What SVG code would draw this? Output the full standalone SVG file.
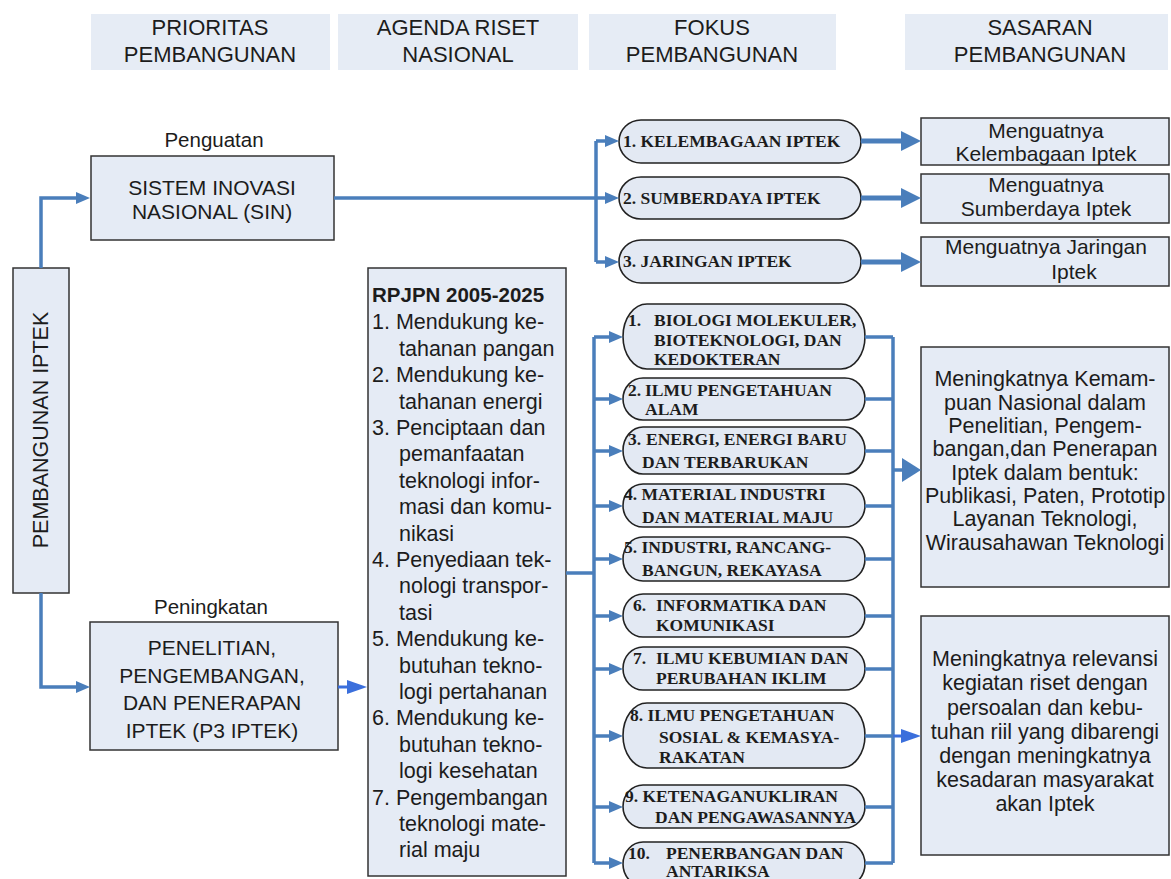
<svg xmlns="http://www.w3.org/2000/svg" width="1171" height="879" viewBox="0 0 1171 879">
<style>
.hdr{fill:#e6ecf5}
.box{fill:#e5ebf5;stroke:#333;stroke-width:1.5}
.pill{fill:#e3e9f3;stroke:#222;stroke-width:1.6}
.t{font-family:"Liberation Sans",Arial,sans-serif;fill:#1c1c1c}
.h{font-size:22px;text-anchor:middle}
.m{font-size:21px;text-anchor:middle}
.b{font-size:21.5px;text-anchor:middle}
.l{font-size:20.5px;text-anchor:middle}
.r{font-size:21.5px}
.ps{font-family:"Liberation Serif","Times New Roman",serif;font-weight:bold;font-size:17.5px;fill:#1c1c1c}
.c{fill:none;stroke:#4a7ebb;stroke-width:3.5}
.ct{fill:none;stroke:#4a7ebb;stroke-width:5}
.cb{fill:none;stroke:#3b6fdc;stroke-width:3}
</style>
<defs>
<marker id="mS" markerUnits="userSpaceOnUse" markerWidth="14" markerHeight="12" refX="4" refY="6" orient="auto"><path d="M0,0 L14,6 L0,12 z" fill="#4a7ebb"/></marker>
<marker id="mB" markerUnits="userSpaceOnUse" markerWidth="20" markerHeight="20" refX="4" refY="10" orient="auto"><path d="M0,0 L20,10 L0,20 z" fill="#4a7ebb"/></marker>
<marker id="mT" markerUnits="userSpaceOnUse" markerWidth="19" markerHeight="24" refX="4" refY="12" orient="auto"><path d="M0,0 L19,12 L0,24 z" fill="#4a7ebb"/></marker>
<marker id="mC" markerUnits="userSpaceOnUse" markerWidth="20" markerHeight="14" refX="4" refY="7" orient="auto"><path d="M0,0 L20,7 L0,14 z" fill="#3b6fdc"/></marker>
</defs>
<rect width="1171" height="879" fill="#ffffff"/>

<g id="header-prioritas"><rect class="hdr" x="91" y="14" width="239" height="56"/><text class="t h" x="210" y="35">PRIORITAS</text><text class="t h" x="210" y="62">PEMBANGUNAN</text></g>
<g id="header-agenda"><rect class="hdr" x="338" y="14" width="240" height="56"/><text class="t h" x="458" y="35">AGENDA RISET</text><text class="t h" x="458" y="62">NASIONAL</text></g>
<g id="header-fokus"><rect class="hdr" x="589" y="14" width="247" height="56"/><text class="t h" x="712" y="35">FOKUS</text><text class="t h" x="712" y="62">PEMBANGUNAN</text></g>
<g id="header-sasaran"><rect class="hdr" x="905" y="14" width="263" height="56"/><text class="t h" x="1040" y="35">SASARAN</text><text class="t h" x="1040" y="62">PEMBANGUNAN</text></g>

<g id="pembangunan-iptek"><rect class="box" x="13" y="268" width="56" height="325"/><text class="t b" transform="translate(48,430) rotate(-90)">PEMBANGUNAN IPTEK</text></g>

<g id="sin"><text class="t l" x="214" y="147">Penguatan</text><rect class="box" x="91" y="156" width="243" height="84"/><text class="t m" x="212" y="195">SISTEM INOVASI</text><text class="t m" x="212" y="218.5">NASIONAL (SIN)</text></g>

<g id="p3iptek"><text class="t l" x="211" y="614">Peningkatan</text><rect class="box" x="90" y="622" width="248" height="128"/><text class="t m" x="212" y="655">PENELITIAN,</text><text class="t m" x="212" y="683">PENGEMBANGAN,</text><text class="t m" x="212" y="710">DAN PENERAPAN</text><text class="t m" x="212" y="738">IPTEK (P3 IPTEK)</text></g>

<g id="rpjpn"><rect class="box" x="368" y="268" width="198" height="608"/>
<text class="t" x="372" y="302" font-size="20.5" font-weight="bold">RPJPN 2005-2025</text>
<text class="t r"><tspan x="372" y="329.3">1. Mendukung ke-</tspan><tspan x="399" y="355.7">tahanan pangan</tspan><tspan x="372" y="382.1">2. Mendukung ke-</tspan><tspan x="399" y="408.5">tahanan energi</tspan><tspan x="372" y="434.9">3. Penciptaan dan</tspan><tspan x="399" y="461.3">pemanfaatan</tspan><tspan x="399" y="487.7">teknologi infor-</tspan><tspan x="399" y="514.1">masi dan komu-</tspan><tspan x="399" y="540.5">nikasi</tspan><tspan x="372" y="566.9">4. Penyediaan tek-</tspan><tspan x="399" y="593.3">nologi transpor-</tspan><tspan x="399" y="619.7">tasi</tspan><tspan x="372" y="646.1">5. Mendukung ke-</tspan><tspan x="399" y="672.5">butuhan tekno-</tspan><tspan x="399" y="698.9">logi pertahanan</tspan><tspan x="372" y="725.3">6. Mendukung ke-</tspan><tspan x="399" y="751.7">butuhan tekno-</tspan><tspan x="399" y="778.1">logi kesehatan</tspan><tspan x="372" y="804.5">7. Pengembangan</tspan><tspan x="399" y="830.9">teknologi mate-</tspan><tspan x="399" y="857.3">rial maju</tspan></text></g>

<g id="f-kelembagaan"><rect class="pill" x="619" y="120" width="242" height="43" rx="22" ry="21.5"/><text class="ps" x="623" y="147">1. KELEMBAGAAN IPTEK</text></g>
<g id="f-sumberdaya"><rect class="pill" x="619" y="177" width="242" height="42" rx="22" ry="21"/><text class="ps" x="623" y="204">2. SUMBERDAYA IPTEK</text></g>
<g id="f-jaringan"><rect class="pill" x="619" y="240" width="242" height="43" rx="22" ry="21.5"/><text class="ps" x="623" y="267">3. JARINGAN IPTEK</text></g>

<g id="f1"><rect class="pill" x="623" y="304" width="242" height="65" rx="24" ry="32.5"/><text class="ps"><tspan x="628" y="326">1.</tspan><tspan x="654" y="326">BIOLOGI MOLEKULER,</tspan><tspan x="654" y="346">BIOTEKNOLOGI, DAN</tspan><tspan x="654" y="365">KEDOKTERAN</tspan></text></g>
<g id="f2"><rect class="pill" x="623" y="378" width="242" height="42" rx="20" ry="21"/><text class="ps"><tspan x="628" y="396">2.</tspan><tspan x="645" y="396">ILMU PENGETAHUAN</tspan><tspan x="645" y="415">ALAM</tspan></text></g>
<g id="f3"><rect class="pill" x="623" y="427" width="242" height="47" rx="20" ry="23.5"/><text class="ps"><tspan x="628" y="445">3.</tspan><tspan x="646" y="445">ENERGI, ENERGI BARU</tspan><tspan x="642" y="468">DAN TERBARUKAN</tspan></text></g>
<g id="f4"><rect class="pill" x="623" y="484" width="242" height="43" rx="20" ry="21.5"/><text class="ps"><tspan x="624" y="500">4. MATERIAL INDUSTRI</tspan><tspan x="642" y="523">DAN MATERIAL MAJU</tspan></text></g>
<g id="f5"><rect class="pill" x="623" y="537" width="242" height="44" rx="20" ry="22"/><text class="ps"><tspan x="624" y="553">5. INDUSTRI, RANCANG-</tspan><tspan x="642" y="576">BANGUN, REKAYASA</tspan></text></g>
<g id="f6"><rect class="pill" x="623" y="594" width="242" height="43" rx="20" ry="21.5"/><text class="ps"><tspan x="633" y="611">6.</tspan><tspan x="656" y="611">INFORMATIKA DAN</tspan><tspan x="656" y="631">KOMUNIKASI</tspan></text></g>
<g id="f7"><rect class="pill" x="623" y="647" width="242" height="43" rx="20" ry="21.5"/><text class="ps"><tspan x="633" y="664">7.</tspan><tspan x="656" y="664">ILMU KEBUMIAN DAN</tspan><tspan x="656" y="684">PERUBAHAN IKLIM</tspan></text></g>
<g id="f8"><rect class="pill" x="623" y="703" width="242" height="65" rx="24" ry="32.5"/><text class="ps"><tspan x="630" y="721">8. ILMU PENGETAHUAN</tspan><tspan x="659" y="743">SOSIAL &amp; KEMASYA-</tspan><tspan x="659" y="763">RAKATAN</tspan></text></g>
<g id="f9"><rect class="pill" x="623" y="785" width="242" height="43" rx="20" ry="21.5"/><text class="ps"><tspan x="625" y="802">9. KETENAGANUKLIRAN</tspan><tspan x="655" y="823">DAN PENGAWASANNYA</tspan></text></g>
<g id="f10"><rect class="pill" x="623" y="842" width="242" height="44" rx="20" ry="22"/><text class="ps"><tspan x="628" y="859">10.</tspan><tspan x="666" y="859">PENERBANGAN DAN</tspan><tspan x="666" y="877">ANTARIKSA</tspan></text></g>

<g id="s-kelembagaan"><rect class="box" x="921" y="118" width="248" height="47"/><text class="t m" x="1046" y="138">Menguatnya</text><text class="t m" x="1046" y="161">Kelembagaan Iptek</text></g>
<g id="s-sumberdaya"><rect class="box" x="921" y="174" width="248" height="49"/><text class="t m" x="1046" y="192">Menguatnya</text><text class="t m" x="1046" y="216">Sumberdaya Iptek</text></g>
<g id="s-jaringan"><rect class="box" x="921" y="237" width="248" height="49"/><text class="t m" x="1046" y="254">Menguatnya Jaringan</text><text class="t m" x="1074" y="279">Iptek</text></g>
<g id="s-kemampuan"><rect class="box" x="921" y="347" width="248" height="240"/><text class="t b"><tspan x="1045" y="386">Meningkatnya Kemam-</tspan><tspan x="1045" y="409.5">puan Nasional dalam</tspan><tspan x="1045" y="433">Penelitian, Pengem-</tspan><tspan x="1045" y="456">bangan,dan Penerapan</tspan><tspan x="1045" y="479.5">Iptek dalam bentuk:</tspan><tspan x="1045" y="503">Publikasi, Paten, Prototip</tspan><tspan x="1045" y="526">Layanan Teknologi,</tspan><tspan x="1045" y="549.5">Wirausahawan Teknologi</tspan></text></g>
<g id="s-relevansi"><rect class="box" x="921" y="616" width="248" height="239"/><text class="t b"><tspan x="1045" y="666">Meningkatnya relevansi</tspan><tspan x="1045" y="690">kegiatan riset dengan</tspan><tspan x="1045" y="715">persoalan dan kebu-</tspan><tspan x="1045" y="739">tuhan riil yang dibarengi</tspan><tspan x="1045" y="763">dengan meningkatnya</tspan><tspan x="1045" y="787">kesadaran masyarakat</tspan><tspan x="1045" y="811">akan Iptek</tspan></text></g>

<g id="connectors">
<path class="c" d="M41,268 V198 H80" marker-end="url(#mS)"/>
<path class="c" d="M41,593 V687 H80" marker-end="url(#mS)"/>
<path class="c" d="M334,198 H596"/>
<path class="c" d="M596,141 V262"/>
<path class="c" d="M596,141 H609" marker-end="url(#mS)"/>
<path class="c" d="M596,198 H609" marker-end="url(#mS)"/>
<path class="c" d="M596,262 H609" marker-end="url(#mS)"/>
<path class="ct" d="M861,141 H905" marker-end="url(#mB)"/>
<path class="ct" d="M861,198 H905" marker-end="url(#mB)"/>
<path class="ct" d="M861,262 H905" marker-end="url(#mB)"/>
<path class="cb" d="M338,687 H351" marker-end="url(#mC)"/>
<path class="c" d="M566,573 H594"/>
<path class="c" d="M594,337 V863"/>
<path class="c" d="M594,337 H613" marker-end="url(#mS)"/>
<path class="c" d="M594,399 H613" marker-end="url(#mS)"/>
<path class="c" d="M594,451 H613" marker-end="url(#mS)"/>
<path class="c" d="M594,506 H613" marker-end="url(#mS)"/>
<path class="c" d="M594,559 H613" marker-end="url(#mS)"/>
<path class="c" d="M594,616 H613" marker-end="url(#mS)"/>
<path class="c" d="M594,669 H613" marker-end="url(#mS)"/>
<path class="c" d="M594,736 H613" marker-end="url(#mS)"/>
<path class="c" d="M594,807 H613" marker-end="url(#mS)"/>
<path class="c" d="M594,863 H613" marker-end="url(#mS)"/>
<path class="c" d="M865,337 H893"/>
<path class="c" d="M865,399 H893"/>
<path class="c" d="M865,451 H893"/>
<path class="c" d="M865,506 H893"/>
<path class="c" d="M865,559 H893"/>
<path class="c" d="M865,616 H893"/>
<path class="c" d="M865,669 H893"/>
<path class="c" d="M865,736 H893"/>
<path class="c" d="M865,807 H893"/>
<path class="c" d="M865,863 H893"/>
<path class="c" d="M893,337 V863"/>
<path class="c" d="M893,470 H906" marker-end="url(#mT)"/>
<path class="cb" d="M893,736 H905" marker-end="url(#mC)"/>
</g>
</svg>
